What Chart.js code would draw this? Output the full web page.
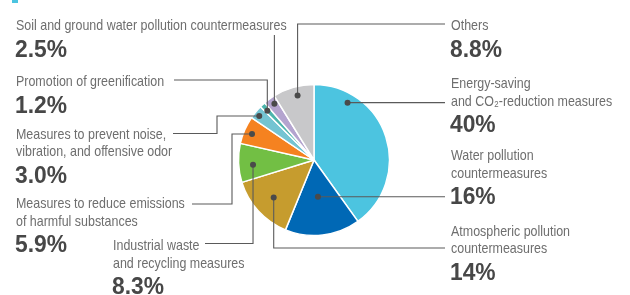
<!DOCTYPE html>
<html>
<head>
<meta charset="utf-8">
<script src="https://cdn.jsdelivr.net/npm/chart.js@4"></script>
<style>
  html, body { margin: 0; padding: 0; background: #fff; }
  #wrap { width: 630px; height: 295px; position: relative; }
</style>
</head>
<body>
<div id="wrap"><canvas id="chartGastos" width="630" height="295"></canvas></div>
<script>
// datos del grafico (sentido horario desde arriba)
const categorias = [
  ["Energy-saving", "and CO\u2082-reduction measures"],
  ["Water pollution", "countermeasures"],
  ["Atmospheric pollution", "countermeasures"],
  ["Industrial waste", "and recycling measures"],
  ["Measures to reduce emissions", "of harmful substances"],
  ["Measures to prevent noise,", "vibration, and offensive odor"],
  ["Promotion of greenification"],
  ["Soil and ground water pollution countermeasures"],
  ["Others"]
];
const porcentajes = [40, 16, 14, 8.3, 5.9, 3.0, 1.2, 2.5, 8.8];
const etiquetasPct = ["40%", "16%", "14%", "8.3%", "5.9%", "3.0%", "1.2%", "2.5%", "8.8%"];
const colores = ["#4cc4e0", "#0068b5", "#c69c2e", "#72bf44", "#f58220", "#74c4d2", "#4db5ad", "#b4a4cf", "#c8c8ca"];

// donde va cada etiqueta y su linea guia
// t = posicion dentro del sector, r = fraccion del radio, path = tramos h/v
const layout = [
  { t: 0.21, r: 0.88, x: 451, y: 88,  path: [["h", 445]] },
  { t: 0.51, r: 0.49, x: 451, y: 160, path: [["h", 445]] },
  { t: 0.49, r: 0.73, x: 451, y: 235.5, path: [["v", 248], ["h", 445]] },
  { t: 0.43, r: 0.81, x: 113, y: 250, path: [["v", 243.5], ["h", 205]] },
  { t: 0.47, r: 0.89, x: 16,  y: 208, path: [["h", 232], ["v", 204], ["h", 192]] },
  { t: 0.44, r: 0.93, x: 16,  y: 138.5, path: [["h", 217], ["v", 133.5], ["h", 173]] },
  { t: 0.4,  r: 0.9,  x: 16,  y: 86,  path: [["v", 80], ["h", 174]] },
  { t: 0.62, r: 0.91, x: 16,  y: 30,  path: [["v", 35]] },
  { t: 0.55, r: 0.88, x: 451, y: 30,  path: [["v", 24], ["h", 445]] }
];

function textoAngosto(ctx, txt, x, y, font, color, escala) {
  ctx.save();
  ctx.font = font;
  ctx.fillStyle = color;
  ctx.textBaseline = "alphabetic";
  ctx.translate(x, y);
  ctx.scale(escala, 1);
  ctx.fillText(txt, 0, 0);
  ctx.restore();
}

const etiquetasPlugin = {
  id: "etiquetas",
  afterDatasetsDraw(chart) {
    const ctx = chart.ctx;
    const arcs = chart.getDatasetMeta(0).data;
    // marca azul arriba a la izquierda
    ctx.fillStyle = "#4cc4e0";
    ctx.fillRect(12, 0, 6, 3);

    arcs.forEach((arc, i) => {
      const L = layout[i];
      const p = arc.getProps(["x", "y", "startAngle", "endAngle", "outerRadius"], true);
      const a = p.startAngle + L.t * (p.endAngle - p.startAngle);
      const dx = p.x + Math.cos(a) * p.outerRadius * L.r;
      const dy = p.y + Math.sin(a) * p.outerRadius * L.r;

      // linea guia
      ctx.save();
      ctx.strokeStyle = "#5a5a5a";
      ctx.lineWidth = 1.1;
      ctx.beginPath();
      let cx = dx, cy = dy;
      ctx.moveTo(cx, cy);
      L.path.forEach(([dir, v]) => {
        if (dir === "h") cx = v; else cy = v;
        ctx.lineTo(cx, cy);
      });
      ctx.stroke();
      ctx.fillStyle = "#4a4a4a";
      ctx.beginPath();
      ctx.arc(dx, dy, 3, 0, Math.PI * 2);
      ctx.fill();
      ctx.restore();

      // textos
      let y = L.y;
      categorias[i].forEach((linea, k) => {
        if (k > 0) y += 17.5;
        textoAngosto(ctx, linea, L.x, y, "15px 'Liberation Sans', Arial, sans-serif", "#6e6e6e", 0.83);
      });
      textoAngosto(ctx, etiquetasPct[i], L.x - 1, y + 26.8, "bold 24px 'Liberation Sans', Arial, sans-serif", "#474747", 0.95);
    });
  }
};

new Chart(document.getElementById("chartGastos").getContext("2d"), {
  type: "pie",
  data: {
    labels: categorias.map(c => c.join(" ")),
    datasets: [{
      data: porcentajes,
      backgroundColor: colores,
      borderColor: "#ffffff",
      borderWidth: 1.5
    }]
  },
  options: {
    responsive: false,
    animation: false,
    radius: 75.5,
    layout: { padding: { left: 0, right: 2, top: 25, bottom: 0 } },
    plugins: { legend: { display: false }, tooltip: { enabled: false } }
  },
  plugins: [etiquetasPlugin]
});
</script>
</body>
</html>
